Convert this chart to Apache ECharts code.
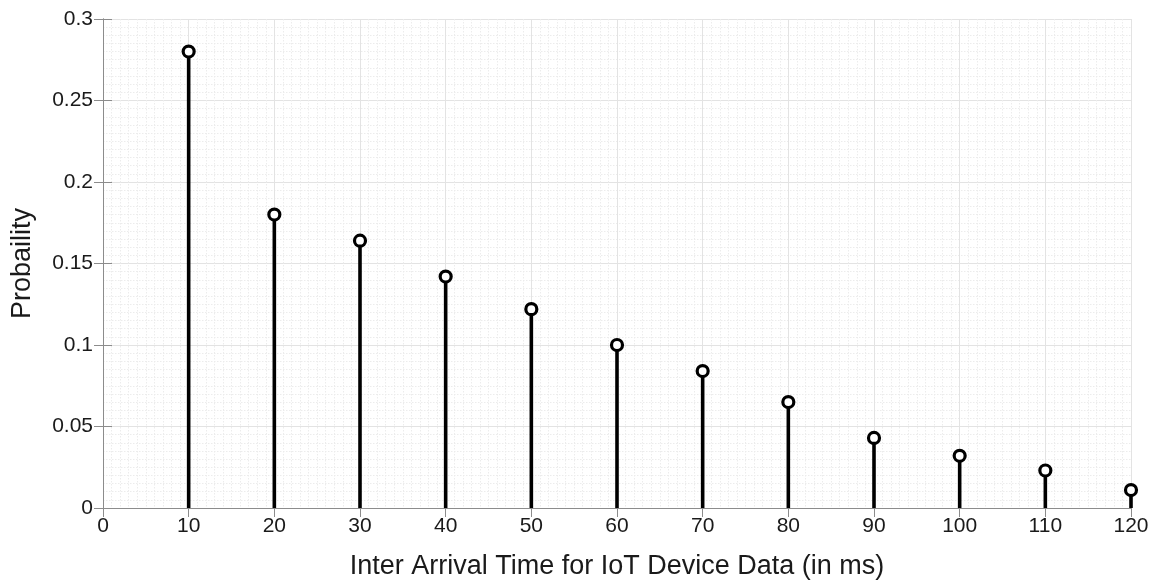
<!DOCTYPE html>
<html>
<head>
<meta charset="utf-8">
<script src="https://cdn.jsdelivr.net/npm/echarts@6/dist/echarts.min.js"></script>
<style>
  html, body { margin: 0; padding: 0; background: #fff; }
  #chart { width: 1155px; height: 581px; }
</style>
</head>
<body>
<div id="chart"></div>
<script>
// Inter-arrival times (ms) and their probabilities
const interArrivalMs = [10, 20, 30, 40, 50, 60, 70, 80, 90, 100, 110, 120];
const probability = [0.280, 0.180, 0.164, 0.142, 0.122, 0.100, 0.084, 0.065, 0.043, 0.032, 0.023, 0.011];

const xTitle = 'Inter Arrival Time for IoT Device Data (in ms)';
const yTitle = 'Probaility';

const points = interArrivalMs.map((t, i) => [t, probability[i]]);

const chart = echarts.init(document.getElementById('chart'), null, { renderer: 'canvas' });

const font = 'Liberation Sans, Arial, Helvetica, sans-serif';
const frameColor = '#8c8c8c';
const textColor = '#1a1a1a';

const majorGrid = { show: true, lineStyle: { color: '#e3e3e3', width: 1 } };
const minorGrid = { show: true, lineStyle: { color: '#ececec', width: 1, type: [1.5, 1.5] } };

chart.setOption({
  animation: false,
  backgroundColor: '#fff',
  grid: { left: 103, right: 24, top: 19, bottom: 73, containLabel: false, outerBoundsMode: 'none' },
  xAxis: [
    {
      type: 'value', min: 0, max: 120, interval: 10,
      name: xTitle, nameLocation: 'middle', nameGap: 45,
      nameTextStyle: { fontFamily: font, fontSize: 27, color: textColor },
      axisLine: { show: true, lineStyle: { color: frameColor, width: 1 } },
      axisTick: { show: true, inside: true, length: 9, lineStyle: { color: frameColor } },
      axisLabel: { fontFamily: font, fontSize: 21, color: textColor, margin: 8 },
      splitLine: majorGrid,
      minorTick: { show: false, splitNumber: 10 },
      minorSplitLine: minorGrid
    },
    {
      type: 'value', min: 0, max: 120, interval: 10, position: 'top',
      axisLine: { show: true, lineStyle: { color: frameColor, width: 1 } },
      axisTick: { show: true, inside: true, length: 9, lineStyle: { color: frameColor } },
      axisLabel: { show: false },
      splitLine: { show: false }
    }
  ],
  yAxis: [
    {
      type: 'value', min: 0, max: 0.3, interval: 0.05,
      name: yTitle, nameLocation: 'middle', nameGap: 67, nameRotate: 90,
      nameTextStyle: { fontFamily: font, fontSize: 27, color: textColor },
      axisLine: { show: true, lineStyle: { color: frameColor, width: 1 } },
      axisTick: { show: true, inside: true, length: 9, lineStyle: { color: frameColor } },
      axisLabel: {
        fontFamily: font, fontSize: 21, color: textColor, margin: 10,
        formatter: v => (v === 0 ? '0' : String(+v.toFixed(2)))
      },
      splitLine: majorGrid,
      minorTick: { show: false, splitNumber: 10 },
      minorSplitLine: minorGrid
    },
    {
      type: 'value', min: 0, max: 0.3, interval: 0.05, position: 'right',
      axisLine: { show: true, lineStyle: { color: frameColor, width: 1 } },
      axisTick: { show: true, inside: true, length: 9, lineStyle: { color: frameColor } },
      axisLabel: { show: false },
      splitLine: { show: false }
    }
  ],
  series: [
    {
      // vertical stems from zero to each probability
      type: 'custom',
      data: points,
      z: 3,
      renderItem: function (params, api) {
        const base = api.coord([api.value(0), 0]);
        const tip = api.coord([api.value(0), api.value(1)]);
        return {
          type: 'line',
          shape: { x1: base[0], y1: base[1], x2: tip[0], y2: tip[1] },
          style: { stroke: '#000', lineWidth: 3.6 }
        };
      }
    },
    {
      // open circle markers at stem tips
      type: 'scatter',
      data: points,
      z: 4,
      symbol: 'circle',
      symbolSize: 11,
      itemStyle: { color: '#fff', borderColor: '#000', borderWidth: 3.2, opacity: 1 }
    }
  ]
});
</script>
</body>
</html>
